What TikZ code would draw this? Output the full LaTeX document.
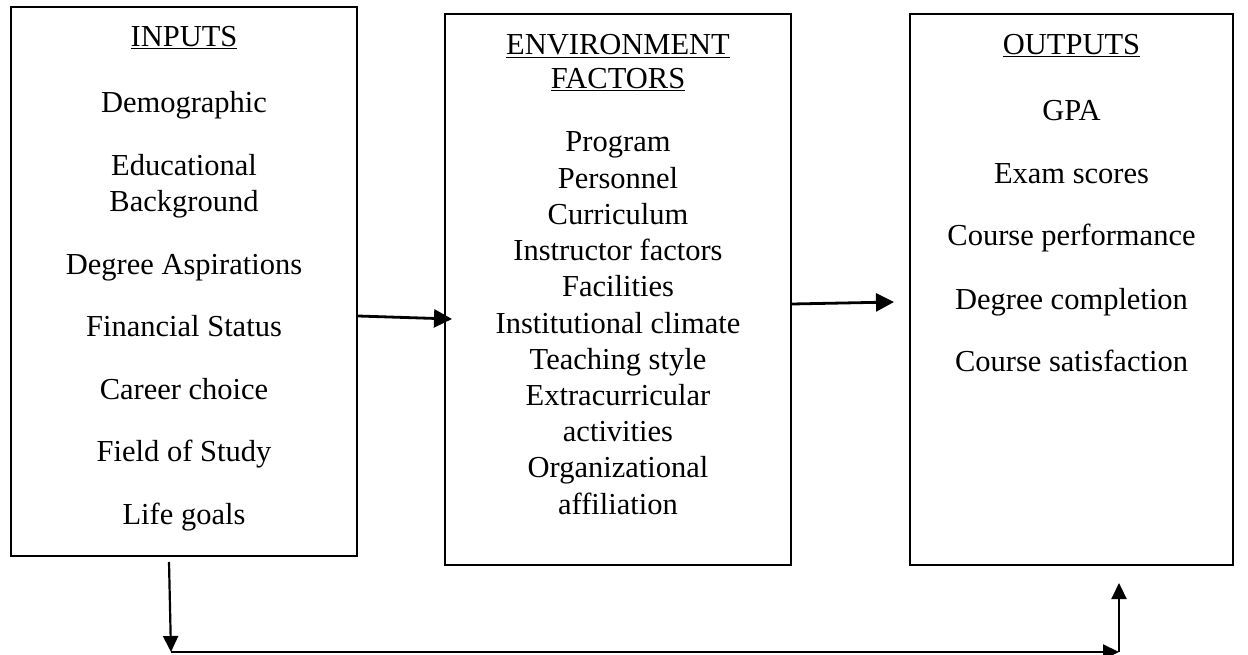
\documentclass[tikz,border=0pt]{standalone}
\usepackage{fontspec}
\setmainfont{Liberation Serif}
\usetikzlibrary{arrows.meta}
\tikzset{
  box/.style={draw, line width=1.8pt, inner sep=0pt},
  txt/.style={inner sep=0pt, anchor=base, font=\fontsize{30.5}{36}\selectfont},
  arr/.style={line width=2.8pt, -{Triangle[length=18pt,width=18pt]}},
  arrb/.style={line width=2.2pt, -{Triangle[length=16pt,width=15pt]}},
}
\begin{document}
\begin{tikzpicture}[x=1pt,y=-1pt]
\useasboundingbox (0,0) rectangle (1248,655);
\node[box, minimum width=346pt, minimum height=549pt] (in) at (184,281.5) {};
\node[box, minimum width=346pt, minimum height=551pt] (env) at (618,289.5) {};
\node[box, minimum width=323pt, minimum height=551pt] (out) at (1071.5,289.5) {};
% inputs
\node[txt] (t1) at (184,47) {\underline{INPUTS}};
\foreach \t/\y [count=\i] in {Demographic/113, Educational/175.5, Background/211.5, Degree Aspirations/274, Financial Status/336.5, Career choice/399, Field of Study/461.5, Life goals/524}
  \node[txt] (ti\i) at (184,\y) {\t};
% environment
\node[txt] (e1) at (618,55) {\underline{ENVIRONMENT}};
\node[txt] (e2) at (618,89) {\underline{FACTORS}};
\foreach \t/\y [count=\i] in {Program/152, Personnel/188.2, Curriculum/224.4, Instructor factors/260.6, Facilities/296.8, Institutional climate/333, Teaching style/369.2, Extracurricular/405.4, activities/441.6, Organizational/477.8, affiliation/514}
  \node[txt] (te\i) at (618,\y) {\t};
% outputs
\node[txt] (o1) at (1071.5,55) {\underline{OUTPUTS}};
\foreach \t/\y [count=\i] in {GPA/121, Exam scores/184, Course performance/246, Degree completion/309, Course satisfaction/371}
  \node[txt] (to\i) at (1071.5,\y) {\t};
% connectors
\coordinate (a1s) at (in.east |- 0,316);
\coordinate (a1e) at (452,319);
\draw[arr] (a1s) -- (a1e);
\coordinate (a2s) at (env.east |- 0,304);
\coordinate (a2e) at (894,302);
\draw[arr] (a2s) -- (a2e);
\coordinate (b1) at (169,562);
\coordinate (b2) at (171,652);
\coordinate (b3) at (1119,652);
\coordinate (b4) at (1119,583);
\draw[arrb] (b1) -- (b2);
\draw[arrb] (b2) -- (b3);
\draw[arrb] (b3) -- (b4);
\end{tikzpicture}
\end{document}
